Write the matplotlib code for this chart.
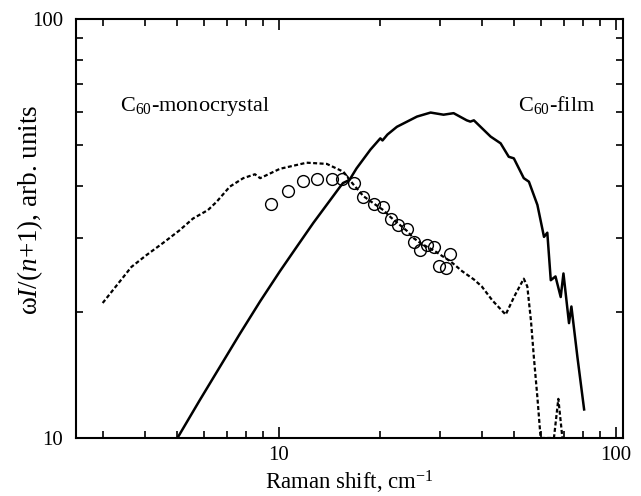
import matplotlib
matplotlib.use("Agg")
import matplotlib.pyplot as plt
from matplotlib.ticker import LogLocator, NullFormatter, FixedLocator

plt.rcParams['font.family'] = ['Liberation Serif', 'DejaVu Serif']
plt.rcParams['mathtext.fontset'] = 'custom'
plt.rcParams['mathtext.rm'] = 'Liberation Serif'
plt.rcParams['mathtext.it'] = 'Liberation Serif:italic'

# ---- donnees ----
# C60 monocristal (pointille)
mono_x = [3.0, 3.65, 4.04, 4.53, 5.07, 5.56, 6.16, 6.53, 7.15, 7.84, 8.49, 8.8,
          10.07, 12.09, 13.87, 15.54, 16.5, 17.8, 19.1, 20.4, 21.5, 22.6, 24.0,
          25.1, 26.3, 27.5, 28.9, 30.5, 32.3, 35.0, 37.9, 40.0, 43.0, 47.1,
          50.0, 53.3, 54.6, 56.0, 57.1, 58.5, 59.8, 62.0, 65.5, 67.5, 69.4]
mono_y = [21.0, 25.6, 27.3, 29.2, 31.3, 33.4, 35.0, 36.6, 39.8, 41.7, 42.6, 41.7,
          43.9, 45.4, 45.1, 43.2, 40.6, 37.8, 36.3, 35.0, 33.6, 32.5, 31.2,
          30.0, 29.2, 28.6, 28.0, 27.2, 26.4, 25.0, 23.9, 23.0, 21.3, 19.7,
          21.8, 24.0, 23.0, 19.0, 15.6, 12.5, 10.0, 10.0, 10.0, 12.4, 10.0]

# C60 film (trait plein)
film_x = [5.0, 5.82, 7.65, 8.8, 10.07, 11.3, 12.65, 15.2, 15.5, 16.2, 17.0, 18.7,
          20.0, 20.3, 21.0, 22.4, 25.7, 28.2, 30.8, 33.0, 36.1, 37.0, 37.9, 42.5,
          45.5, 48.1, 49.8, 53.3, 55.2, 58.5, 61.2, 62.6, 64.1, 66.2, 68.6, 69.9,
          72.6, 73.8, 76.9, 80.5]
film_y = [10.0, 12.3, 17.7, 21.2, 25.0, 28.6, 32.6, 39.8, 40.6, 41.3, 44.0, 48.8,
          51.9, 51.3, 53.0, 55.3, 58.5, 59.8, 59.1, 59.6, 57.3, 56.9, 57.3, 52.4,
          50.5, 46.9, 46.5, 41.7, 40.9, 36.0, 30.2, 30.9, 23.8, 24.3, 21.7, 24.7,
          18.8, 20.6, 15.6, 11.7]

# points experimentaux (cercles)
pts_x = [9.46, 10.66, 11.8, 13.0, 14.35, 15.4, 16.7, 17.8, 19.1, 20.4, 21.5,
         22.6, 24.0, 25.1, 26.3, 27.5, 28.9, 32.3, 29.9, 31.4]
pts_y = [36.2, 38.9, 41.1, 41.6, 41.4, 41.4, 40.5, 37.5, 36.1, 35.6, 33.3,
         32.2, 31.5, 29.4, 28.1, 28.9, 28.5, 27.5, 25.7, 25.5]

# ---- affichage ----
fig = plt.figure(figsize=(6.41, 4.96), dpi=100)
ax = fig.add_axes([76/641, 1 - 438/496, 547/641, 419/496])

ax.plot(mono_x, mono_y, color='black', lw=1.6, linestyle=(0, (1.8, 1.1)))
ax.plot(film_x, film_y, color='black', lw=1.8)
ax.plot(pts_x, pts_y, linestyle='none', marker='o', markersize=8.5,
        markerfacecolor='none', markeredgecolor='black', markeredgewidth=1.0)

ax.set_xscale('log')
ax.set_yscale('log')
ax.set_xlim(2.5, 105)
ax.set_ylim(10, 100)

ax.xaxis.set_major_locator(FixedLocator([10, 100]))
ax.yaxis.set_major_locator(FixedLocator([10, 100]))
ax.xaxis.set_minor_locator(LogLocator(base=10, subs=range(2, 10)))
ax.yaxis.set_minor_locator(LogLocator(base=10, subs=range(2, 10)))
ax.xaxis.set_minor_formatter(NullFormatter())
ax.yaxis.set_minor_formatter(NullFormatter())
ax.set_xticklabels(['10', '100'])
ax.set_yticklabels(['10', '100'])

ax.tick_params(which='both', direction='in', top=True, right=True, width=1.2,
               labelsize=15)
ax.tick_params(which='major', length=8)
ax.tick_params(axis='y', which='major', pad=9.5)
ax.tick_params(axis='x', which='major', pad=6)
ax.tick_params(which='minor', length=5)
for s in ax.spines.values():
    s.set_linewidth(1.5)

ax.set_xlabel(r'Raman shift, cm$^{-1}$', fontsize=16.5)
ax.xaxis.label.set_va('baseline')
ax.xaxis.set_label_coords(0.5, -51/419)
ax.set_ylabel(r'ω$I$/($n$+1), arb. units', fontsize=19.5)
ax.yaxis.set_label_coords(-0.056, 0.544)

ax.text(44/547, 327/419, r'C$_{60}$-monocrystal', transform=ax.transAxes,
        fontsize=16, ha='left', va='baseline')
ax.text(519/547, 327/419, r'C$_{60}$-film', transform=ax.transAxes,
        fontsize=16, ha='right', va='baseline')

fig.savefig('out.png', dpi=100)
